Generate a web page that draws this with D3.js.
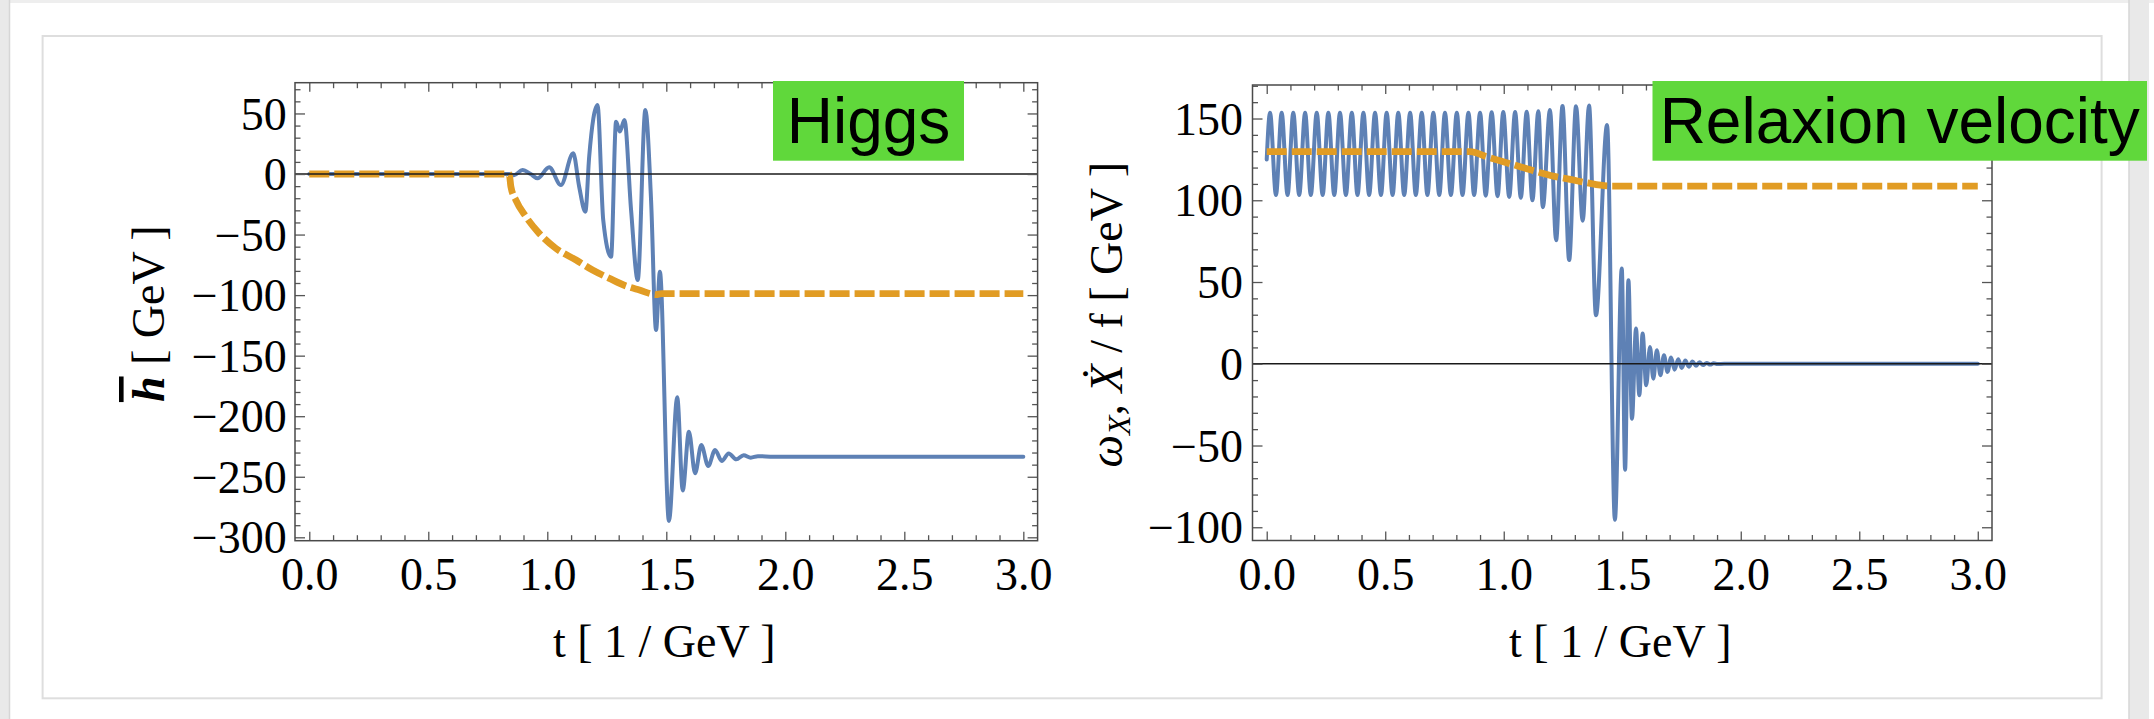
<!DOCTYPE html>
<html><head><meta charset="utf-8">
<script src="https://cdn.jsdelivr.net/npm/d3@7"></script>
<style>body{margin:0;background:#fff;} svg{display:block;}</style>
</head><body>
<svg id="chart" width="2154" height="719"></svg>
<script>
// ---------- DATA ----------
const xTickValues = [0, 0.5, 1, 1.5, 2, 2.5, 3];
const xTickLabels = ["0.0", "0.5", "1.0", "1.5", "2.0", "2.5", "3.0"];
const higgsYTicks = [50, 0, -50, -100, -150, -200, -250, -300];
const relaxYTicks = [150, 100, 50, 0, -50, -100];

// Left panel, blue: Higgs field h(t)
const higgsT = [0, 0.84, 0.86, 0.896, 0.93, 0.959, 1.008, 1.057, 1.109, 1.134, 1.16, 1.176, 1.211, 1.235, 1.268,
  1.289, 1.305, 1.324, 1.352, 1.38, 1.412, 1.436, 1.457, 1.473, 1.511, 1.546, 1.569, 1.595, 1.621, 1.647,
  1.676, 1.705, 1.733, 1.762, 1.794, 1.825, 1.855, 1.885, 1.95, 3.0];
const higgsV = [0, 0, -1, 3.3, 0, -3.6, 5.5, -9.1, 17.1, -10.5, -31.1, 14.3, 57, -38, -68.3,
  43.2, 35, 44.6, -29.7, -87.5, 52.8, -21.5, -128.8, -80.7, -286.5, -184.4, -261.3, -212.8, -247.2, -223.8,
  -241.1, -227.9, -237, -230.7, -235.6, -232.2, -234.2, -233, -233.4, -233.4];

// Left panel, orange dashed: Higgs minimum
const vevT = [0, 0.84, 0.847, 0.868, 0.91, 0.966, 1.036, 1.121, 1.19, 1.261, 1.331, 1.387, 1.457, 1.48, 3.0];
const vevV = [0, 0, -10.5, -21.5, -35.2, -49, -61.4, -71, -79.3, -86.2, -92.5, -95.8, -99.6, -98.8, -98.8];

// Right panel, blue: relaxion velocity Xdot/f
const relaxT = [0, 0.014, 0.039, 0.063, 0.088, 0.112, 0.137, 0.162, 0.186, 0.211, 0.236, 0.260, 0.285,
  0.309, 0.334, 0.359, 0.383, 0.408, 0.432, 0.457, 0.482, 0.506, 0.531, 0.555, 0.580, 0.605, 0.629,
  0.654, 0.678, 0.703, 0.728, 0.752, 0.777, 0.802, 0.826, 0.851, 0.875, 0.900, 0.924, 0.949, 0.974,
  0.998, 1.023, 1.048, 1.072, 1.097, 1.121, 1.146, 1.165, 1.195, 1.221, 1.248, 1.276, 1.305, 1.333,
  1.360, 1.389, 1.436, 1.469, 1.498, 1.512, 1.526, 1.541, 1.558, 1.572, 1.586, 1.601, 1.617, 1.631,
  1.646, 1.661, 1.676, 1.691, 1.706, 1.721, 1.736, 1.751, 1.766, 1.781, 1.796, 1.811, 1.826, 1.841,
  1.856, 1.871, 1.886, 1.901, 1.93, 3.0];
const relaxV = [125, 153.6, 103.2, 153.6, 103.2, 153.6, 103.2, 153.6, 103.2, 153.6, 103.2, 153.6, 103.2,
  153.6, 103.2, 153.6, 103.2, 153.6, 103.2, 153.6, 103.2, 153.6, 103.2, 153.6, 103.2, 153.6, 103.2,
  153.6, 103.2, 153.6, 103.2, 153.6, 103.2, 153.6, 103.2, 153.6, 103.2, 153.6, 102.8, 153.8, 102.5,
  154, 102, 154, 101.5, 154.2, 100, 154.5, 95.8, 155.2, 75.6, 157.7, 63.4, 157.5, 87.4,
  157.9, 29.7, 146, -95.4, 58.3, -64.8, 51.1, -33.6, 21.5, -19.3, 18.5, -13.2, 10.3, -9.1,
  8.3, -7.0, 5.2, -5.0, 3.8, -3.6, 2.8, -2.6, 2.0, -1.8, 1.4, -1.2, 0.9, -0.8,
  0.5, -0.5, 0.3, -0.2, 0, 0];

// Right panel, orange dashed: omega_X
const omegaT = [0, 0.858, 0.928, 0.998, 1.069, 1.139, 1.209, 1.280, 1.350, 1.449, 3.0];
const omegaV = [129.7, 129.7, 126.6, 123.6, 120.5, 117.5, 114.8, 112.8, 110.7, 108.7, 108.7];

// ---------- DRAW ----------
const svg = d3.select("#chart");
const BLUE = "#5E81B5", ORANGE = "#E19C24", GREEN = "#60D83B";
const SERIF = "'Liberation Serif','Times New Roman',serif";
const SANS = "'Liberation Sans',Arial,Helvetica,sans-serif";

// page decoration (screenshot window)
svg.append("rect").attr("x", 0).attr("y", 0).attr("width", 2154).attr("height", 3).attr("fill", "#eeeeee");
svg.append("rect").attr("x", 0).attr("y", 0).attr("width", 9).attr("height", 719).attr("fill", "#e9e9e9");
svg.append("line").attr("x1", 9.5).attr("x2", 9.5).attr("y1", 0).attr("y2", 719).attr("stroke", "#d6d6d6").attr("stroke-width", 1.5);
svg.append("rect").attr("x", 2129).attr("y", 0).attr("width", 20).attr("height", 719).attr("fill", "#e9e9e9");
svg.append("line").attr("x1", 2129).attr("x2", 2129).attr("y1", 0).attr("y2", 719).attr("stroke", "#d6d6d6").attr("stroke-width", 1.5);
svg.append("rect").attr("x", 42.6).attr("y", 36).attr("width", 2059).attr("height", 662.3)
  .attr("fill", "#fff").attr("stroke", "#dedede").attr("stroke-width", 2);

const fmtTick = d => d < 0 ? "\u2212" + Math.abs(d) : String(d);

function panel(cfg) {
  const g = svg.append("g");
  const x = d3.scaleLinear().domain([-0.06, 3.06]).range([cfg.left, cfg.right]);
  const y = d3.scaleLinear().domain(cfg.yDomain).range([cfg.bottom, cfg.top]);
  const clipId = "clip" + cfg.id;
  svg.append("clipPath").attr("id", clipId).append("rect")
    .attr("x", cfg.left).attr("y", cfg.top).attr("width", cfg.right - cfg.left).attr("height", cfg.bottom - cfg.top);

  const line = d3.line().x(d => x(d[0])).y(d => y(d[1])).curve(d3.curveMonotoneX);
  g.append("path").datum(d3.zip(cfg.blueT, cfg.blueV)).attr("clip-path", `url(#${clipId})`)
    .attr("d", line).attr("fill", "none").attr("stroke", BLUE).attr("stroke-width", 4)
    .attr("stroke-linejoin", "round").attr("stroke-linecap", "round");
  g.append("path").datum(d3.zip(cfg.orT, cfg.orV)).attr("clip-path", `url(#${clipId})`)
    .attr("d", line).attr("fill", "none").attr("stroke", ORANGE).attr("stroke-width", 6.8)
    .attr("stroke-dasharray", "20 5");

  // zero axis line
  g.append("line").attr("x1", cfg.left).attr("x2", cfg.right).attr("y1", y(0)).attr("y2", y(0))
    .attr("stroke", "#1a1a1a").attr("stroke-width", 1.4);

  const xMinor = d3.range(0, 3.0001, 0.1).filter(v => Math.abs(v * 2 - Math.round(v * 2)) > 1e-6);
  const yMinor = d3.range(cfg.yMinorStart, cfg.yMinorEnd + 0.001, 10).filter(v => v % 50 !== 0);

  const style = sel => {
    sel.select(".domain").remove();
    sel.selectAll(".tick line").attr("stroke", "#555").attr("stroke-width", 1.3);
    sel.attr("font-family", SERIF).attr("font-size", 46);
    sel.selectAll(".tick text").attr("fill", "#000");
  };
  g.append("g").attr("transform", `translate(0,${cfg.bottom})`)
    .call(d3.axisBottom(x).tickValues(xTickValues).tickSize(-9).tickPadding(17)
      .tickFormat((d, i) => xTickLabels[i])).call(style);
  g.append("g").attr("transform", `translate(0,${cfg.bottom})`)
    .call(d3.axisBottom(x).tickValues(xMinor).tickSize(-5.5).tickFormat("")).call(style);
  g.append("g").attr("transform", `translate(0,${cfg.top})`)
    .call(d3.axisTop(x).tickValues(xTickValues).tickSize(-9).tickFormat("")).call(style);
  g.append("g").attr("transform", `translate(0,${cfg.top})`)
    .call(d3.axisTop(x).tickValues(xMinor).tickSize(-5.5).tickFormat("")).call(style);
  g.append("g").attr("transform", `translate(${cfg.left},0)`)
    .call(d3.axisLeft(y).tickValues(cfg.yTicks).tickSize(-10).tickPadding(cfg.yPad).tickFormat(fmtTick)).call(style)
    .selectAll(".tick text").attr("dy", "0.34em");
  g.append("g").attr("transform", `translate(${cfg.left},0)`)
    .call(d3.axisLeft(y).tickValues(yMinor).tickSize(-5.5).tickFormat("")).call(style);
  g.append("g").attr("transform", `translate(${cfg.right},0)`)
    .call(d3.axisRight(y).tickValues(cfg.yTicks).tickSize(-10).tickFormat("")).call(style);
  g.append("g").attr("transform", `translate(${cfg.right},0)`)
    .call(d3.axisRight(y).tickValues(yMinor).tickSize(-5.5).tickFormat("")).call(style);

  // frame
  g.append("rect").attr("x", cfg.left).attr("y", cfg.top).attr("width", cfg.right - cfg.left)
    .attr("height", cfg.bottom - cfg.top).attr("fill", "none").attr("stroke", "#4a4a4a").attr("stroke-width", 1.5);

  // x title
  g.append("text").attr("x", (cfg.left + cfg.right) / 2 - 2).attr("y", 656.7).attr("text-anchor", "middle")
    .attr("font-family", SERIF).attr("font-size", 46).attr("fill", "#000").text("t [ 1 / GeV ]");

  // y title
  const yt = g.append("text").attr("transform", `translate(${cfg.ytX},${(cfg.top + cfg.bottom) / 2 + 2}) rotate(-90)`)
    .attr("text-anchor", "middle").attr("font-family", SERIF).attr("font-size", 46).attr("fill", "#000");
  cfg.ytitle(yt);

  // green label
  const lb = svg.append("g");
  lb.append("rect").attr("x", cfg.box[0]).attr("y", cfg.box[1]).attr("width", cfg.box[2] - cfg.box[0])
    .attr("height", cfg.box[3] - cfg.box[1]).attr("fill", GREEN);
  lb.append("text").attr("x", (cfg.box[0] + cfg.box[2]) / 2).attr("y", 143.3).attr("text-anchor", "middle")
    .attr("font-family", SANS).attr("font-size", 64).attr("fill", "#000").text(cfg.label);
}

panel({
  id: "L", left: 295, right: 1037.6, top: 82.7, bottom: 540.7, yDomain: [-302.8, 75.4],
  yTicks: higgsYTicks, yMinorStart: -300, yMinorEnd: 70, yPad: 8.3,
  blueT: higgsT, blueV: higgsV, orT: vevT, orV: vevV,
  ytX: 164,
  ytitle: t => {
    t.append("tspan").attr("font-style", "italic").attr("font-weight", "bold")
      .style("text-decoration", "overline").text("h");
    t.append("tspan").text(" [ GeV ]");
  },
  box: [773, 81, 964, 160.7], label: "Higgs"
});

panel({
  id: "R", left: 1252.5, right: 1992, top: 85, bottom: 540.5, yDomain: [-108.1, 170.5],
  yTicks: relaxYTicks, yMinorStart: -100, yMinorEnd: 170, yPad: 9.5,
  blueT: relaxT, blueV: relaxV, orT: omegaT, orV: omegaV,
  ytX: 1122,
  ytitle: t => {
    t.append("tspan").attr("font-style", "italic").text("\u03C9");
    t.append("tspan").attr("font-style", "italic").attr("font-size", 32).attr("dy", 8).text("X");
    t.append("tspan").attr("dy", -8).text(", ");
    t.append("tspan").attr("font-style", "italic").text("X\u0307");
    t.append("tspan").text(" / f [ GeV ]");
  },
  box: [1652.5, 81, 2147, 160.7], label: "Relaxion velocity"
});
</script>
</body></html>
